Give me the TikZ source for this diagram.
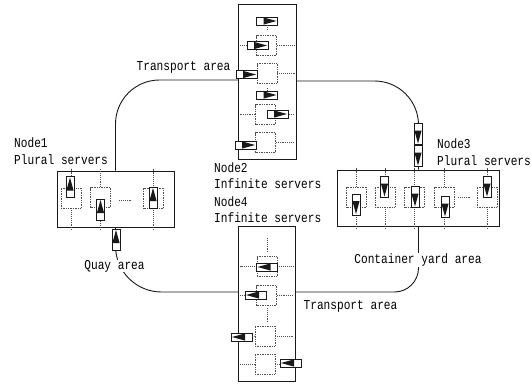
\documentclass[tikz,border=0pt]{standalone}
\usepackage{fontspec}
\setmainfont[FakeStretch=0.82]{Liberation Mono}
\usepackage{xcolor}
\usetikzlibrary{positioning}
\definecolor{inkgrey}{RGB}{25,25,25}
\definecolor{dotgrey}{RGB}{80,80,80}
% one job: name, x, y, direction of travel
\newcommand{\job}[4]{%
  \node[jobbox,rotate=#4] (#1) at (#2,#3) {};
  \fill[inkgrey,shift={(#1.center)},rotate=#4] (-3.5pt,-3.6pt) -- (-3.5pt,3.6pt) -- (9.5pt,0pt) -- cycle;
}
\begin{document}
\begin{tikzpicture}[x=1pt,y=-1pt,
          area/.style={draw=inkgrey,line width=1pt,inner sep=0pt},
          server/.style={draw=dotgrey,densely dotted,line width=.7pt,
                         minimum width=20pt,minimum height=20pt,inner sep=0pt},
          jobbox/.style={draw=inkgrey,fill=white,line width=.9pt,
                         minimum width=21pt,minimum height=8pt,inner sep=0pt},
          link/.style={draw=inkgrey,line width=.9pt},
          stub/.style={draw=dotgrey,densely dotted,line width=.9pt},
          lab/.style={font=\fontsize{13.6}{16.5}\selectfont,align=left,inner sep=0pt},
          tag/.style={font=\fontsize{13.6}{16.5}\selectfont,fill=white,inner sep=0.5pt}]
        \useasboundingbox (0,0) rectangle (531,388);
        % areas
        \node[area,minimum width=117pt,minimum height=56pt] (node1) at (115.5,199) {};
        \node[area,minimum width=58pt,minimum height=155pt] (node2) at (267,81.5) {};
        \node[area,minimum width=162pt,minimum height=56pt] (node3) at (418.5,198) {};
        \node[area,minimum width=57pt,minimum height=155pt] (node4) at (266.5,303.5) {};
        \coordinate (node2in) at (238,80);
        \coordinate (node2out) at (296,81);
        \coordinate (node4in) at (238,292);
        \coordinate (node4out) at (295,292);
        % transport lines
        \draw[link,rounded corners=44pt] (node2in) -| (node1.north);
        \draw[link,rounded corners=44pt] (node2out) -| (node3.north);
        \draw[link,rounded corners=46pt] (node4in) -| (node1.south);
        \draw[link,rounded corners=24pt] (node4out) -| (node3.south);
        % labels
        \node[lab,anchor=west] (node1lab) at (14,151) {Node1\\Plural servers};
        \node[lab,anchor=west] (node2lab) at (214,175.5) {Node2\\Infinite servers};
        \node[lab,below=7.5pt of node2lab.south west,anchor=north west] (node4lab) {Node4\\Infinite servers};
        \node[lab,anchor=west] (node3lab) at (437,152) {Node3\\Plural servers};
        \node[tag] (quay) at (114.5,266) {Quay area};
        \node[tag] (yard) at (418,260) {Container yard area};
        \node[lab] (transa) at (183.5,67) {Transport area};
        \node[lab] (transb) at (350.5,306) {Transport area};
        % node2 servers
        \node[server] (s2a) at (266.5,45.5) {};
        \node[server] (s2b) at (267,73.5) {};
        \node[server] (s2c) at (265.5,114.5) {};
        \node[server] (s2d) at (265.5,142.5) {};
        \coordinate (s2top) at (267,30);
        \coordinate (s2mid) at (267,88);
        \draw[stub] (s2a.west) -- ([xshift=2pt]node2.west |- s2a.west);
        \draw[stub] (s2a.east) -- ([xshift=-2pt]node2.east |- s2a.east);
        \draw[stub] (s2b.east) -- ([xshift=-2pt]node2.east |- s2b.east);
        \draw[stub] (s2c.west) -- ([xshift=2pt]node2.west |- s2c.west);
        \draw[stub] (s2c.east) -- ([xshift=-2pt]node2.east |- s2c.east);
        \draw[stub] (s2d.east) -- ([xshift=-2pt]node2.east |- s2d.east);
        \job{j2a}{267}{21}{0}
        \job{j2b}{257.5}{45.5}{0}
        \job{j2c}{246.5}{74.5}{0}
        \job{j2d}{267}{95}{0}
        \job{j2e}{277.5}{114}{0}
        \job{j2f}{245.5}{145}{0}
        \draw[stub] (j2a.south) -- (s2top);
        \draw[stub] (j2d.north) -- (s2mid);
        % node4 servers
        \node[server] (s4a) at (267,266.5) {};
        \node[server] (s4b) at (266.5,295.5) {};
        \node[server] (s4c) at (265,336) {};
        \node[server] (s4d) at (265,364) {};
        \coordinate (s4topa) at (267,238);
        \coordinate (s4topb) at (267,252);
        \coordinate (s4mida) at (267,308);
        \coordinate (s4midb) at (267,322);
        \draw[stub] (s4topa) -- (s4topb);
        \draw[stub] (s4mida) -- (s4midb);
        \draw[stub] (s4a.west) -- ([xshift=2pt]node4.west |- s4a.west);
        \draw[stub] (s4a.east) -- ([xshift=-2pt]node4.east |- s4a.east);
        \draw[stub] (s4b.west) -- ([xshift=2pt]node4.west |- s4b.west);
        \draw[stub] (s4b.east) -- ([xshift=-2pt]node4.east |- s4b.east);
        \draw[stub] (s4c.east) -- ([xshift=-2pt]node4.east |- s4c.east);
        \draw[stub] (s4d.west) -- ([xshift=2pt]node4.west |- s4d.west);
        \draw[stub] (s4d.east) -- ([xshift=-2pt]node4.east |- s4d.east);
        \job{j4a}{267}{267}{180}
        \job{j4b}{255.5}{295}{180}
        \job{j4c}{241.5}{337}{180}
        \job{j4d}{290.5}{363}{180}
        \draw[stub] (s4c.west) -- (j4c.west);
        % node1 servers
        \node[server] (s1a) at (71,198) {};
        \node[server] (s1b) at (100.5,197.5) {};
        \node[server] (s1c) at (153.5,198) {};
        \coordinate (d1a) at (119,200);
        \coordinate (d1b) at (132,200);
        \draw[stub] (d1a) -- (d1b);
        \draw[stub] (s1a.north) -- ([yshift=2pt]node1.north -| s1a.north);
        \draw[stub] (s1a.south) -- ([yshift=-2pt]node1.south -| s1a.south);
        \draw[stub] (s1b.north) -- ([yshift=2pt]node1.north -| s1b.north);
        \draw[stub] (s1b.south) -- ([yshift=-2pt]node1.south -| s1b.south);
        \draw[stub] (s1c.north) -- ([yshift=2pt]node1.north -| s1c.north);
        \draw[stub] (s1c.south) -- ([yshift=-2pt]node1.south -| s1c.south);
        \job{j1a}{70}{187}{90}
        \job{j1b}{100.5}{209.5}{90}
        \job{j1c}{153}{197.5}{90}
        \job{j1d}{116}{239.5}{90}
        % node3 servers
        \node[server] (s3a) at (356.5,197) {};
        \node[server] (s3b) at (385,197) {};
        \node[server] (s3c) at (414.5,197) {};
        \node[server] (s3d) at (444.5,197) {};
        \node[server] (s3e) at (487,197) {};
        \coordinate (d3a) at (458,197);
        \coordinate (d3b) at (471,197);
        \draw[stub] (d3a) -- (d3b);
        \draw[stub] (s3a.north) -- ([yshift=2pt]node3.north -| s3a.north);
        \draw[stub] (s3a.south) -- ([yshift=-2pt]node3.south -| s3a.south);
        \draw[stub] (s3b.north) -- ([yshift=2pt]node3.north -| s3b.north);
        \draw[stub] (s3b.south) -- ([yshift=-2pt]node3.south -| s3b.south);
        \draw[stub] (s3c.north) -- ([yshift=2pt]node3.north -| s3c.north);
        \draw[stub] (s3c.south) -- ([yshift=-2pt]node3.south -| s3c.south);
        \draw[stub] (s3d.north) -- ([yshift=2pt]node3.north -| s3d.north);
        \draw[stub] (s3d.south) -- ([yshift=-2pt]node3.south -| s3d.south);
        \draw[stub] (s3e.north) -- ([yshift=2pt]node3.north -| s3e.north);
        \draw[stub] (s3e.south) -- ([yshift=-2pt]node3.south -| s3e.south);
        \job{j3a}{356}{204.5}{-90}
        \job{j3b}{384.5}{187}{-90}
        \job{j3c}{415}{197}{-90}
        \job{j3d}{445}{207}{-90}
        \job{j3e}{487}{187}{-90}
        \job{j3f}{418}{134}{-90}
        \job{j3g}{418}{156}{-90}
      \end{tikzpicture}
\end{document}
